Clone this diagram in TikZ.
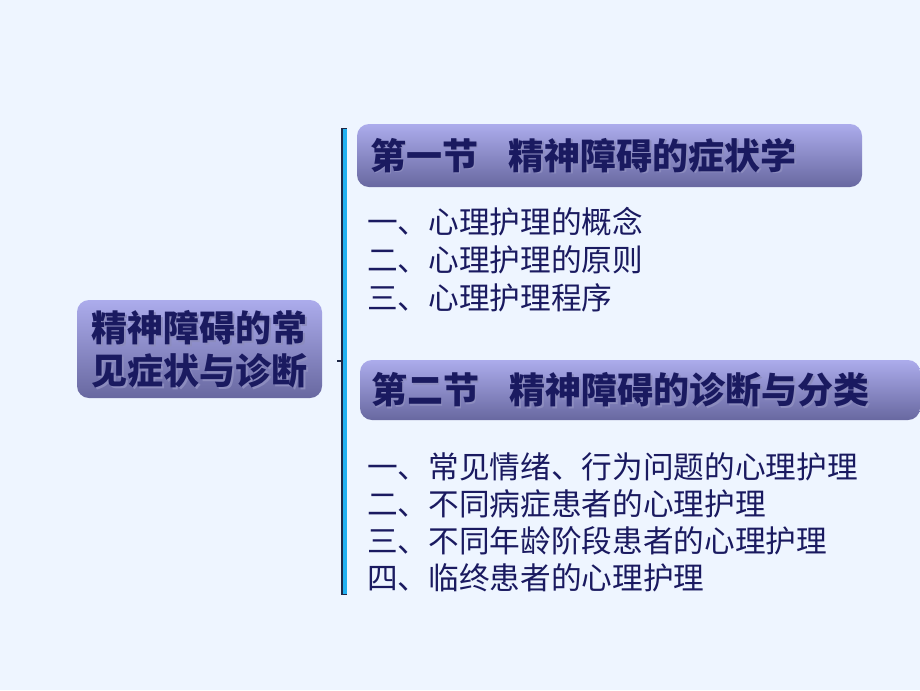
\documentclass[tikz,border=0pt]{standalone}
\usepackage{fontspec}
\setmainfont{Noto Sans CJK SC}
\definecolor{bg}{RGB}{238,245,255}
\definecolor{boxtop}{RGB}{172,172,236}
\definecolor{boxbot}{RGB}{104,104,160}
\definecolor{navy}{RGB}{26,26,96}
\definecolor{shadowc}{RGB}{140,140,190}
\definecolor{bracketc}{RGB}{34,176,240}
\definecolor{bracketd}{RGB}{30,40,70}
\tikzset{
  gbox/.style={rounded corners=9pt, top color=boxtop, bottom color=boxbot, draw=none, inner sep=0pt},
  ttl/.style={font=\bfseries\fontsize{27pt}{32pt}\selectfont, text=navy, anchor=west, inner sep=0pt},
  ttlsh/.style={font=\bfseries\fontsize{27pt}{32pt}\selectfont, text=shadowc, anchor=west, inner sep=0pt},
  item/.style={font=\fontsize{23pt}{28pt}\selectfont, text=navy, anchor=west, inner sep=0pt},
}
\begin{document}
\begin{tikzpicture}[x=0.75pt,y=-0.75pt]
\fill[bg] (0,0) rectangle (920,690);
\useasboundingbox (0,0) rectangle (920,690);
% bracket
\fill[bracketd] (341,128) rectangle (347,595);
\fill[bracketc] (343,129) rectangle (347,594);
\coordinate (tickL) at (337,361);
\coordinate (tickR) at (341,361);
\draw[bracketd, line width=1.5pt] (tickL) -- (tickR);
% main box
\node[gbox, minimum width=183.75pt, minimum height=73.5pt] (main) at (199.5,349) {};
\node[font=\bfseries\fontsize{27pt}{32.5pt}\selectfont, text=shadowc, align=center, inner sep=0pt] (mainsh) at (201,351) {精神障碍的常\\见症状与诊断};
\node[font=\bfseries\fontsize{27pt}{32.5pt}\selectfont, text=navy, align=center, inner sep=0pt] (maint) at (199.5,349) {精神障碍的常\\见症状与诊断};
% section 1
\node[gbox, minimum width=378.75pt, minimum height=47.25pt] (s1) at (609.5,155.5) {};
\node[ttlsh] (s1sh) at (371.5,157) {第一节\hspace{0.85em}精神障碍的症状学};
\node[ttl] (s1t) at (370,155.5) {第一节\hspace{0.85em}精神障碍的症状学};
\node[item] (a1) at (367,222) {一、心理护理的概念};
\node[item] (a2) at (367,260) {二、心理护理的原则};
\node[item] (a3) at (367,298) {三、心理护理程序};
% section 2
\node[gbox, minimum width=420pt, minimum height=45pt] (s2) at (640,390) {};
\node[ttlsh] (s2sh) at (372.5,391.5) {第二节\hspace{0.85em}精神障碍的诊断与分类};
\node[ttl] (s2t) at (371,390) {第二节\hspace{0.85em}精神障碍的诊断与分类};
\node[item] (b1) at (367,467) {一、常见情绪、行为问题的心理护理};
\node[item] (b2) at (367,504) {二、不同病症患者的心理护理};
\node[item] (b3) at (367,541) {三、不同年龄阶段患者的心理护理};
\node[item] (b4) at (367,578) {四、临终患者的心理护理};
\end{tikzpicture}
\end{document}
